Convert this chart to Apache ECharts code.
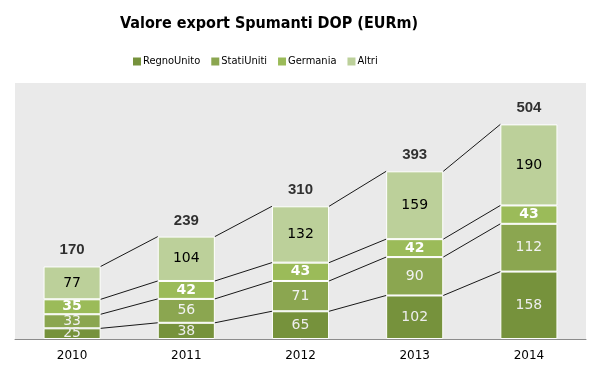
<!DOCTYPE html>
<html><head><meta charset="utf-8">
<script src="https://cdn.jsdelivr.net/npm/echarts@6/dist/echarts.min.js"></script>
<style>html,body{margin:0;padding:0;background:#fff}#c{width:601px;height:373px}</style>
</head><body><div id="c"></div>
<script>
const categories = ['2010','2011','2012','2013','2014'];
const regnoUnito = [25, 38, 65, 102, 158];
const statiUniti = [33, 56, 71, 90, 112];
const germania = [35, 42, 43, 42, 43];
const altri = [77, 104, 132, 159, 190];
const totals = [170, 239, 310, 393, 504];
const seriesNames = ['RegnoUnito','StatiUniti','Germania','Altri'];
const colors = ['#76923C','#8BA650','#9BBB59','#BCD09A'];
const labelColors = ['#EDEDED','#F2F2F2','#FFFFFF','#000000'];
const labelWeights = ['normal','normal','bold','normal'];
const values = [regnoUnito, statiUniti, germania, altri];

const chart = echarts.init(document.getElementById('c'));
const barSeries = values.map((v, k) => ({
  name: seriesNames[k], type: 'bar', stack: 'tot', data: v, barWidth: '50%',
  itemStyle: {color: colors[k], borderColor: '#FFFFFF', borderWidth: 1},
  label: {show: true, position: 'inside', color: labelColors[k], fontFamily: 'DejaVu Sans',
    fontSize: 14, fontWeight: labelWeights[k]},
  emphasis: {disabled: true}, z: 3
}));
const cumData = categories.map((c, i) => {
  let s = 0; const row = [i];
  values.forEach(v => { s += v[i]; row.push(s); });
  return row;
});
const lineSeries = {
  type: 'custom', data: cumData, z: 2, silent: true,
  encode: {x: 0, y: [1,2,3,4]},
  renderItem: function (params, api) {
    const i = api.value(0);
    if (i >= categories.length - 1) return {type: 'group', children: []};
    const bw = api.size([1, 0])[0] * 0.5;
    const children = [];
    for (let k = 1; k <= 4; k++) {
      const p1 = api.coord([i, api.value(k)]);
      const p2 = api.coord([i + 1, cumData[i + 1][k]]);
      children.push({type: 'line', shape: {x1: p1[0] + bw / 2, y1: p1[1], x2: p2[0] - bw / 2, y2: p2[1]},
        style: {stroke: '#000000', lineWidth: 0.9}});
    }
    return {type: 'group', children: children};
  }
};
const totalSeries = {
  type: 'scatter', data: totals, symbolSize: 0, silent: true, z: 4,
  label: {show: true, position: 'top', distance: 9, color: '#000', fontFamily: 'Liberation Sans',
    fontWeight: 'bold', fontSize: 15}
};
const narrow = '"DejaVu Sans Condensed", "Liberation Sans"';
chart.setOption({
  animation: false,
  title: {text: 'Valore export Spumanti DOP (EURm)', left: 115, top: 11,
    textStyle: {fontFamily: narrow, fontWeight: 'bold', fontSize: 16, color: '#000'}},
  legend: {data: seriesNames, left: 128, top: 51, itemWidth: 8, itemHeight: 8, itemGap: 11,
    icon: 'rect', itemStyle: {borderWidth: 0},
    textStyle: {fontFamily: narrow, fontSize: 11, color: '#000', padding: [0,0,0,-3]}},
  grid: {left: 15, right: 15, top: 83, bottom: 34, show: true, backgroundColor: '#EAEAEA', borderWidth: 0},
  xAxis: {type: 'category', data: categories,
    axisLine: {lineStyle: {color: '#8C8C8C', width: 1}}, axisTick: {show: false},
    axisLabel: {fontFamily: 'DejaVu Sans', fontSize: 12, color: '#000', margin: 11}},
  yAxis: {type: 'value', min: 0, max: 600, show: false, splitLine: {show: false}},
  series: [...barSeries, lineSeries, totalSeries]
});
</script></body></html>
